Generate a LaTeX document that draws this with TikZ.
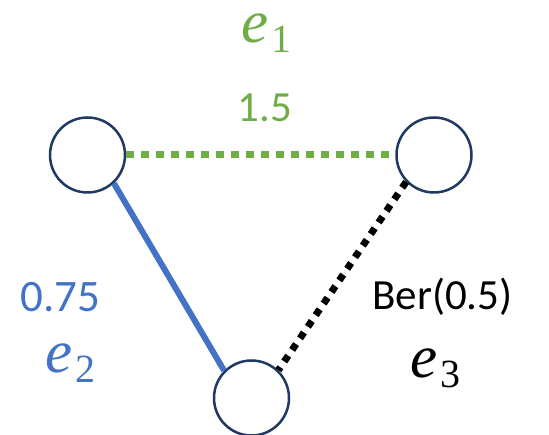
\documentclass[tikz,border=0pt]{standalone}
\usepackage{fontspec}
\newfontfamily\carl{Carlito}
\newfontfamily\mathser{Liberation Serif}
\definecolor{greenA}{HTML}{70AD47}
\definecolor{blueA}{HTML}{4472C4}
\definecolor{navyA}{HTML}{1F3864}
\newcommand\esub[1]{{\mathser\itshape e}\kern3pt\raisebox{-10pt}{\mathser\fontsize{40}{40}\selectfont #1}}
\begin{document}
\begin{tikzpicture}[x=1pt,y=-1pt]
\useasboundingbox (0,0) rectangle (549,435);
\tikzset{
  vert/.style={circle,draw=navyA,line width=2.5pt,fill=white,minimum size=75pt,inner sep=0pt},
  num/.style={font=\carl\fontsize{43}{43}\selectfont,inner sep=0pt,anchor=base},
  elab/.style={font=\fontsize{61}{61}\selectfont,inner sep=0pt,anchor=base west,text height=28pt}
}
\node[vert] (l) at (87.5,155) {};
\node[vert] (r) at (434,155) {};
\node[vert] (b) at (251.5,398) {};
\draw[greenA,line width=7pt,dash pattern=on 8pt off 7pt] (l.east) -- (r.west);
\draw[blueA,line width=6pt] (l.-47) -- (b.135);
\draw[black,line width=7pt,dash pattern=on 7pt off 7pt] (r.224) -- (b.46);
\node[num,text=greenA] (w1) at (265,122) {1.5};
\node[elab,text=greenA] (e1) at (241,43) {\esub{1}};
\node[num,text=blueA,anchor=base west,font=\carl\fontsize{45}{45}\selectfont] (w2) at (20,312) {0.75};
\node[elab,text=blueA] (e2) at (45,373) {\esub{2}};
\node[num,anchor=base west] (w3) at (372,310) {Ber(0.5)};
\node[elab] (e3) at (410,378) {\esub{3}};
\end{tikzpicture}
\end{document}
